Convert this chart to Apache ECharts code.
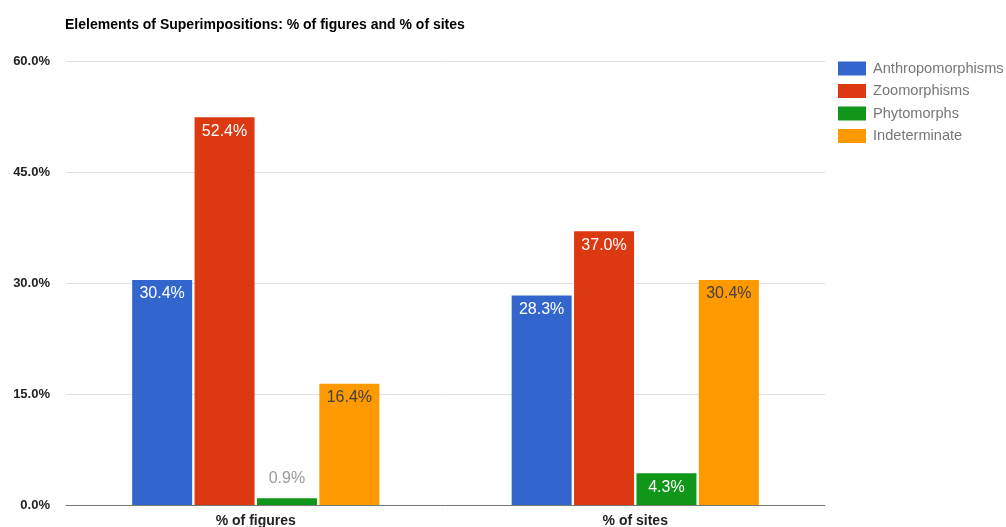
<!DOCTYPE html>
<html><head><meta charset="utf-8">
<script src="https://cdn.jsdelivr.net/npm/echarts@6/dist/echarts.min.js"></script>
<style>html,body{margin:0;padding:0;background:#fff}#c{width:1006px;height:527px}</style>
</head><body><div id="c"></div>
<script>
const categories = ['% of figures', '% of sites'];
const seriesNames = ['Anthropomorphisms', 'Zoomorphisms', 'Phytomorphs', 'Indeterminate'];
const anthropomorphisms = [30.4, 28.3];
const zoomorphisms = [52.4, 37.0];
const phytomorphs = [0.9, 4.3];
const indeterminate = [16.4, 30.4];
const yTicks = [0, 15, 30, 45, 60];
const colors = ['#3366cc', '#dc3912', '#109618', '#ff9900'];
const labelColors = ['#ffffff', '#ffffff', '#ffffff', '#404040'];
const values = [anthropomorphisms, zoomorphisms, phytomorphs, indeterminate];
const FONT = '"Liberation Sans", Arial, sans-serif';

const series = values.map((arr, i) => ({
  name: seriesNames[i],
  type: 'bar',
  barWidth: 60,
  barGap: '4%',
  itemStyle: { color: colors[i] },
  label: {
    show: true, position: 'insideTop', distance: 6,
    color: labelColors[i], fontFamily: FONT, fontSize: 16,
    formatter: p => p.value.toFixed(1) + '%'
  },
  data: arr.map(v => (v < 3 ? { value: v, label: { position: 'top', color: '#999999', distance: 12 } } : v))
}));

const chart = echarts.init(document.getElementById('c'));
chart.setOption({
  animation: false,
  textStyle: { fontFamily: FONT },
  title: {
    text: 'Elelements of Superimpositions: % of figures and % of sites',
    left: 65, top: 18, padding: 0,
    textStyle: { fontFamily: FONT, fontSize: 14, fontWeight: 'bold', color: '#000' }
  },
  legend: {
    orient: 'vertical', left: 838, top: 61, padding: 0,
    itemWidth: 28, itemHeight: 14, itemGap: 7.5,
    icon: 'rect',
    textStyle: { fontFamily: FONT, fontSize: 14.6, lineHeight: 14, color: '#777777', padding: [0, 0, 0, 2] },
    data: seriesNames
  },
  grid: { left: 66, right: 181, top: 61, bottom: 22, containLabel: false, outerBoundsMode: 'none' },
  xAxis: {
    type: 'category', data: categories,
    axisTick: { show: false },
    axisLine: { lineStyle: { color: '#777777', width: 1 } },
    axisLabel: { fontFamily: FONT, fontSize: 14, fontWeight: 'bold', color: '#222', margin: 9 }
  },
  yAxis: {
    type: 'value', min: yTicks[0], max: yTicks[yTicks.length - 1], interval: 15,
    axisLine: { show: false }, axisTick: { show: false },
    splitLine: { lineStyle: { color: '#e0e0e0' } },
    axisLabel: { fontFamily: FONT, fontSize: 13, fontWeight: 'bold', color: '#222', margin: 16,
      formatter: v => v.toFixed(1) + '%' }
  },
  series
});
</script></body></html>
